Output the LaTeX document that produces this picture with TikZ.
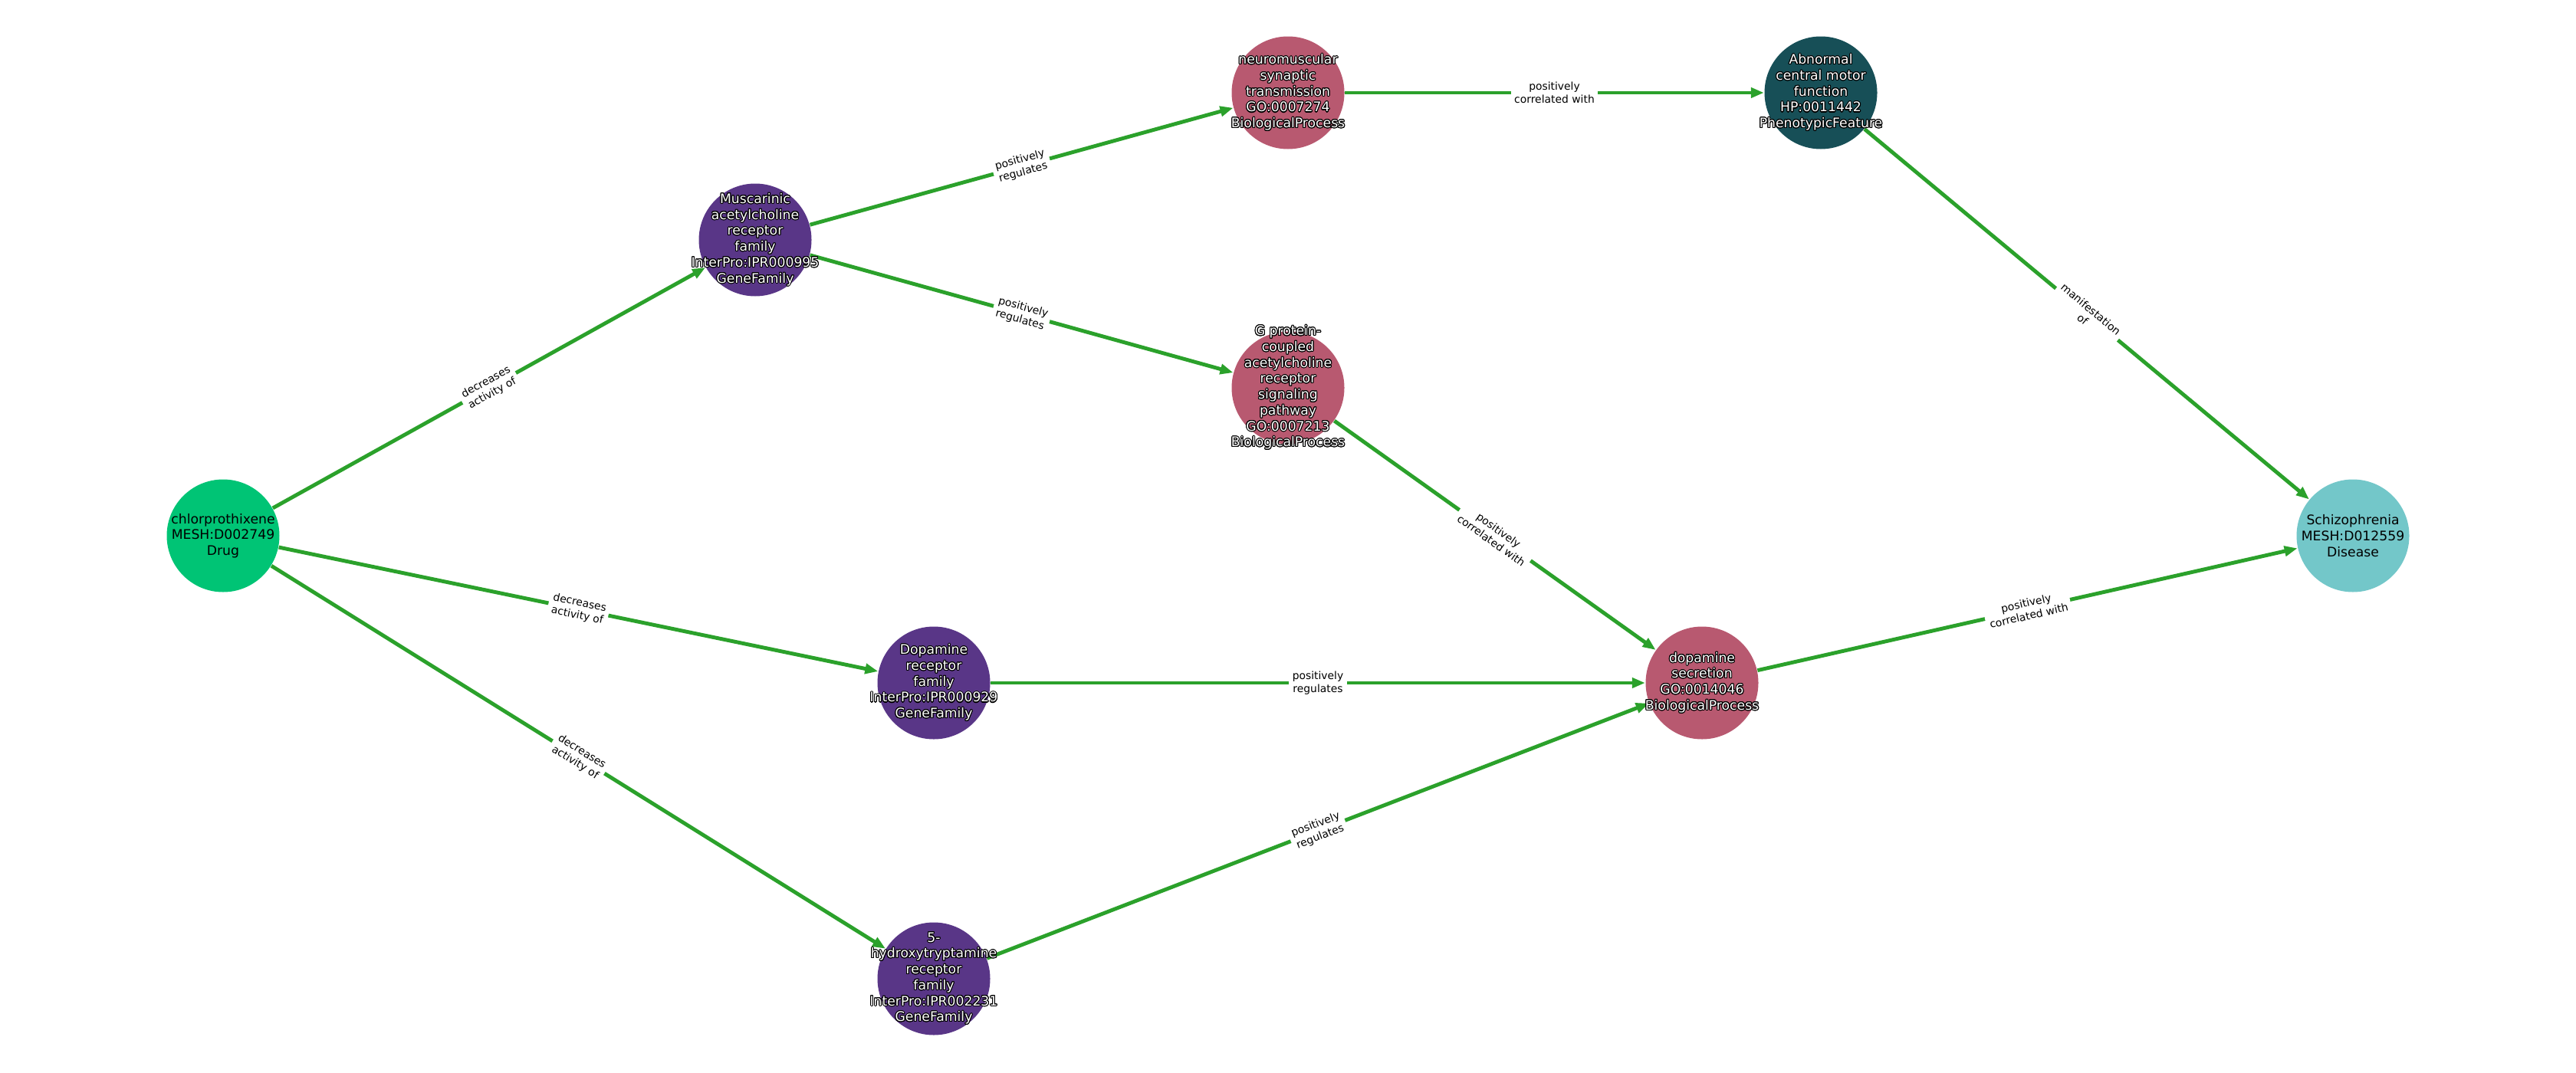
\documentclass[tikz,border=0pt]{standalone}
\usepackage{fontspec}
\setmainfont{DejaVu Sans}
\usepackage[copies]{contour}
\usetikzlibrary{shapes,arrows.meta,backgrounds}
\definecolor{kgdrug}{rgb}{0.00,0.77,0.46}
\definecolor{kgfamily}{rgb}{0.35,0.21,0.53}
\definecolor{kgprocess}{rgb}{0.72,0.35,0.44}
\definecolor{kgpheno}{rgb}{0.09,0.31,0.34}
\definecolor{kgdisease}{rgb}{0.45,0.78,0.79}
\definecolor{kgedge}{rgb}{0.17,0.63,0.17}
\contourlength{0.3pt}
\tikzstyle{kgnode}=[circle, inner sep=0pt, minimum size=1.47cm]
\tikzstyle{kgtext}=[align=center, inner sep=0pt, font=\fontsize{4.9}{5.9}\selectfont]
\tikzstyle{kgedge}=[draw=kgedge, line width=1.4pt, -{Triangle[length=1.7mm,width=1.3mm]}]
\tikzstyle{kglabel}=[midway, sloped, auto=false, anchor=center, fill=white, inner sep=1.3pt, align=center, font=\fontsize{3.95}{4.75}\selectfont]
\newcommand{\ol}[1]{\contour{black}{#1}}
\newcommand{\kgnode}[4]{
	\node[kgnode, fill=#3] (#1) at (#2) {};
	\node[kgtext, text=black] (#1t) at (#2) {#4};}
\newcommand{\kgnodeol}[4]{
	\node[kgnode, fill=#3] (#1) at (#2) {};
	\node[kgtext, text=white] (#1t) at (#2) {#4};}

\begin{document}
\begin{tikzpicture}[auto]
	\useasboundingbox (0,0) rectangle (33.6,-14);
	\kgnode{chl}{2.91,-6.99}{kgdrug}{chlorprothixene\\MESH:D002749\\Drug}
	\kgnodeol{mus}{9.85,-3.13}{kgfamily}{\ol{Muscarinic}\\\ol{acetylcholine}\\\ol{receptor}\\\ol{family}\\\ol{InterPro:IPR000995}\\\ol{GeneFamily}}
	\kgnodeol{nmt}{16.80,-1.21}{kgprocess}{\ol{neuromuscular}\\\ol{synaptic}\\\ol{transmission}\\\ol{GO:0007274}\\\ol{BiologicalProcess}}
	\kgnodeol{amf}{23.75,-1.21}{kgpheno}{\ol{Abnormal}\\\ol{central motor}\\\ol{function}\\\ol{HP:0011442}\\\ol{PhenotypicFeature}}
	\kgnodeol{gpc}{16.80,-5.06}{kgprocess}{\ol{G protein-}\\\ol{coupled}\\\ol{acetylcholine}\\\ol{receptor}\\\ol{signaling}\\\ol{pathway}\\\ol{GO:0007213}\\\ol{BiologicalProcess}}
	\kgnodeol{drf}{12.18,-8.91}{kgfamily}{\ol{Dopamine}\\\ol{receptor}\\\ol{family}\\\ol{InterPro:IPR000929}\\\ol{GeneFamily}}
	\kgnodeol{htr}{12.18,-12.77}{kgfamily}{\ol{5-}\\\ol{hydroxytryptamine}\\\ol{receptor}\\\ol{family}\\\ol{InterPro:IPR002231}\\\ol{GeneFamily}}
	\kgnodeol{dse}{22.20,-8.91}{kgprocess}{\ol{dopamine}\\\ol{secretion}\\\ol{GO:0014046}\\\ol{BiologicalProcess}}
	\kgnode{scz}{30.69,-6.99}{kgdisease}{Schizophrenia\\MESH:D012559\\Disease}
	
	\begin{pgfonlayer}{background}
	\path (chl) edge[kgedge] node[kglabel] {decreases\\activity of} (mus);
	\path (chl) edge[kgedge] node[kglabel] {decreases\\activity of} (drf);
	\path (chl) edge[kgedge] node[kglabel] {decreases\\activity of} (htr);
	\path (mus) edge[kgedge] node[kglabel] {positively\\regulates} (nmt);
	\path (mus) edge[kgedge] node[kglabel] {positively\\regulates} (gpc);
	\path (nmt) edge[kgedge] node[kglabel] {positively\\correlated with} (amf);
	\path (amf) edge[kgedge] node[kglabel] {manifestation\\of} (scz);
	\path (gpc) edge[kgedge] node[kglabel] {positively\\correlated with} (dse);
	\path (drf) edge[kgedge] node[kglabel] {positively\\regulates} (dse);
	\path (htr) edge[kgedge] node[kglabel] {positively\\regulates} (dse);
	\path (dse) edge[kgedge] node[kglabel] {positively\\correlated with} (scz);
	\end{pgfonlayer}
\end{tikzpicture}
\end{document}
